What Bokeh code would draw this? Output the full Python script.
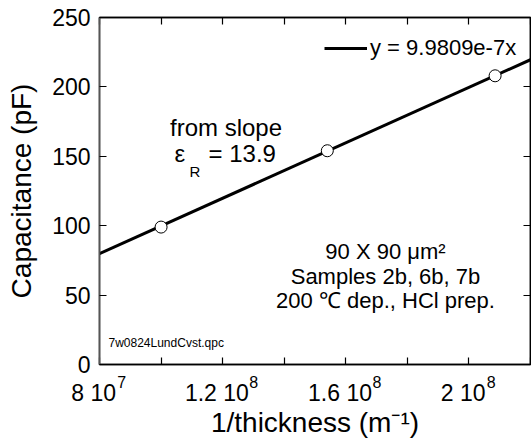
from bokeh.plotting import figure
from bokeh.models import Range1d, LinearAxis, FixedTicker, Label, Legend, LegendItem
from bokeh.embed import file_html
from bokeh.resources import INLINE

# ---- data ----
inv_thickness = [1.0e8, 1.54e8, 2.085e8]      # 1/thickness (m^-1)
capacitance = [99.0, 154.0, 208.0]           # pF
fit_slope = 9.9809e-7                        # y = 9.9809e-7 x
fit_x = [8e7, 2.2e8]
fit_y = [fit_slope * v for v in fit_x]

x_major_ticks = [8e7, 1.2e8, 1.6e8, 2.0e8]
x_minor_ticks = [1.0e8, 1.4e8, 1.8e8, 2.2e8]
x_tick_mantissa = ["8 10", "1.2 10", "1.6 10", "2 10"]
x_tick_exponent = ["7", "8", "8", "8"]
y_ticks = [0, 50, 100, 150, 200, 250]

FONT = "Liberation Sans"
XTICK_PX = 23
EXP_PX = 16
NBSP = "\u00a0"
ENSP = "\u2002"
PAD = ENSP

def text_width(s, px):
    w = {".": 0.278, " ": 0.278, NBSP: 0.278, ENSP: 0.5}
    return sum(w.get(c, 0.556) for c in s) * px

p = figure(width=531, height=444, output_backend="svg", toolbar_location=None,
           x_range=Range1d(8e7, 2.2e8), y_range=Range1d(0, 250),
           min_border_left=99, min_border_right=1, min_border_top=17, min_border_bottom=80,
           x_axis_location=None, y_axis_location=None)
p.grid.visible = False
p.outline_line_color = "black"
p.outline_line_width = 1.5
p.background_fill_color = "white"
p.border_fill_color = "white"

xt = FixedTicker(ticks=x_major_ticks, minor_ticks=x_minor_ticks)
yt = FixedTicker(ticks=y_ticks, minor_ticks=[])

def style_axis(ax, labels=True):
    ax.major_tick_in = 7
    ax.major_tick_out = 0
    ax.minor_tick_in = 7
    ax.minor_tick_out = 0
    ax.major_tick_line_color = "black"
    ax.minor_tick_line_color = "black"
    ax.major_tick_line_width = 1.2
    ax.minor_tick_line_width = 1.2
    ax.axis_line_color = "black"
    ax.axis_line_width = 1.5
    ax.major_label_text_font = FONT
    ax.major_label_text_color = "black"
    ax.axis_label_text_font = FONT
    ax.axis_label_text_font_style = "normal"
    ax.axis_label_text_color = "black"
    if not labels:
        ax.major_label_overrides = {t: "" for t in ax.ticker.ticks}
        ax.major_label_text_font_size = "1px"
        ax.major_label_standoff = 0

# bottom axis: mantissas of the tick labels
bottom = LinearAxis(ticker=xt)
style_axis(bottom)
bottom.major_label_overrides = {t: s + PAD for t, s in zip(x_major_ticks, x_tick_mantissa)}
bottom.major_label_text_font_size = f"{XTICK_PX}px"
bottom.major_label_standoff = 15
p.add_layout(bottom, "below")

# second bottom axis: superscript exponents (pulled up beside the mantissas) + axis title
exp_over = {}
for t, m, e in zip(x_major_ticks, x_tick_mantissa, x_tick_exponent):
    full = text_width(m + PAD, XTICK_PX)
    target = full / 2 - text_width(PAD, XTICK_PX) + 1.5
    W = 2 * (target + text_width(e, EXP_PX))
    k = max(0, round((W - text_width(e, EXP_PX)) / text_width(NBSP, EXP_PX)))
    exp_over[t] = NBSP * k + e
bottom2 = LinearAxis(ticker=FixedTicker(ticks=x_major_ticks, minor_ticks=[]),
                     axis_label="1/thickness (m\u207b\u00b9)")
style_axis(bottom2)
bottom2.axis_line_color = None
bottom2.major_tick_line_color = None
bottom2.minor_tick_line_color = None
bottom2.major_tick_in = 0
bottom2.minor_tick_in = 0
bottom2.major_label_overrides = exp_over
bottom2.major_label_text_font_size = f"{EXP_PX}px"
bottom2.major_label_standoff = -35
bottom2.axis_label_text_font_size = "28px"
bottom2.axis_label_standoff = 13
p.add_layout(bottom2, "below")

left = LinearAxis(ticker=yt, axis_label="Capacitance (pF)")
style_axis(left)
left.axis_line_color = "#555555"
left.major_label_text_font_size = "23px"
left.major_label_standoff = 9
left.axis_label_text_font_size = "28px"
left.axis_label_standoff = 12
p.add_layout(left, "left")

top = LinearAxis(ticker=xt)
style_axis(top, labels=False)
p.add_layout(top, "above")

right = LinearAxis(ticker=yt)
style_axis(right, labels=False)
p.add_layout(right, "right")

fit = p.line(fit_x, fit_y, line_color="black", line_width=3)
p.scatter(inv_thickness, capacitance, marker="circle", size=12,
          fill_color="white", line_color="black", line_width=1)

legend = Legend(items=[LegendItem(label="y = 9.9809e-7x", renderers=[fit])],
                location=(225, 303), padding=0, margin=0, spacing=0,
                glyph_width=43, glyph_height=24, label_height=24, label_standoff=3,
                label_text_font=FONT, label_text_font_size="22px", label_text_color="black",
                border_line_color=None, background_fill_alpha=0)
p.add_layout(legend)

def lab(x, y, text, size="22px", align="left"):
    p.add_layout(Label(x=x, y=y, text=text, text_font=FONT, text_font_size=size,
                       text_align=align, text_baseline="alphabetic", text_color="black"))

lab(1.211e8, 171.0, "from slope", size="24px", align="center")
lab(1.0436e8, 152.0, "\u03b5", size="24px")
lab(1.0923e8, 139.0, "R", size="15px")
lab(1.1541e8, 152.0, "= 13.9", size="24px")
lab(1.729e8, 81.4, "90 X 90 \u03bcm\u00b2", align="center")
lab(1.729e8, 63.4, "Samples 2b, 6b, 7b", align="center")
lab(1.729e8, 46.1, "200 \u2103 dep., HCl prep.", align="center")
lab(8.292e7, 15.85, "7w0824LundCvst.qpc", size="12px")

open("out.html", "w").write(file_html(p, INLINE))
